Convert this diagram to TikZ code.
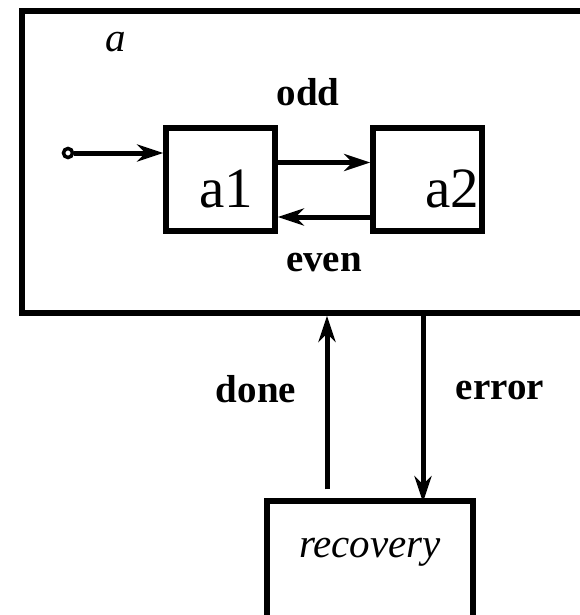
\documentclass[tikz,border=0pt]{standalone}
\usepackage{fontspec}
\setmainfont{Liberation Serif}
\usetikzlibrary{arrows.meta,positioning}
\tikzset{
    statebox/.style={draw, line width=5.5pt, minimum width=109pt, minimum height=103pt, inner sep=0pt},
    statetext/.style={font=\fontsize{57}{60}\selectfont},
    statename/.style={font=\fontsize{41}{44}\selectfont\itshape},
    translabel/.style={font=\fontsize{39}{42}\selectfont\bfseries},
    transarrow/.style={line width=5pt, -{Stealth[length=26pt,width=17pt,inset=8pt]}}
}

\begin{document}
\begin{tikzpicture}[x=1pt,y=1pt]
    \useasboundingbox (0,0) rectangle (580,-615);

    % Draw outer state.
    \node[draw, line width=5.5pt, minimum width=618pt, minimum height=302pt] (a) at (331,-162) {};
    \node[statename] (aname) at (116,-42) {a};

    % Draw inner states.
    \node[statebox, label={[statetext, xshift=5.5pt, yshift=-9.5pt]center:a1}] (a1) at (220.5,-179.5) {};
    \node[statebox, label={[statetext, xshift=24.5pt, yshift=-9.5pt]center:a2}] (a2) at (427.5,-179.5) {};

    % Initial transition.
    \node[circle, draw, fill=white, line width=3.5pt, minimum size=9pt, inner sep=0pt] (init) at (68,-153) {};
    \draw[transarrow] (init) -- (init -| a1.west);

    % Transitions from $a1$ to $a2$ and back.
    \draw[transarrow] ([yshift=17pt]a1.east) -- ([yshift=17pt]a2.west);
    \node[translabel] (odd) at (308,-92) {odd};
    \draw[transarrow] ([yshift=-37.5pt]a2.west) -- ([yshift=-37.5pt]a1.east);
    \node[translabel] (even) at (324,-262) {even};

    % Recovery state.
    \node[draw, line width=5.5pt, minimum width=206pt, minimum height=200pt,
        label={[statename, yshift=49pt]center:recovery}] (recovery) at (370,-601) {};

    % Transitions between $a$ and recovery.
    \coordinate (donefoot) at ([xshift=-43pt, yshift=9pt]recovery.north);
    \coordinate (errortip) at ([xshift=53pt, yshift=-4pt]recovery.north);
    \draw[transarrow] (donefoot) -- (donefoot |- a.south);
    \node[translabel] (done) at (256,-389) {done};
    \draw[transarrow] (errortip |- a.south) -- (errortip);
    \node[translabel] (error) at (500,-390) {error};
\end{tikzpicture}
\end{document}
